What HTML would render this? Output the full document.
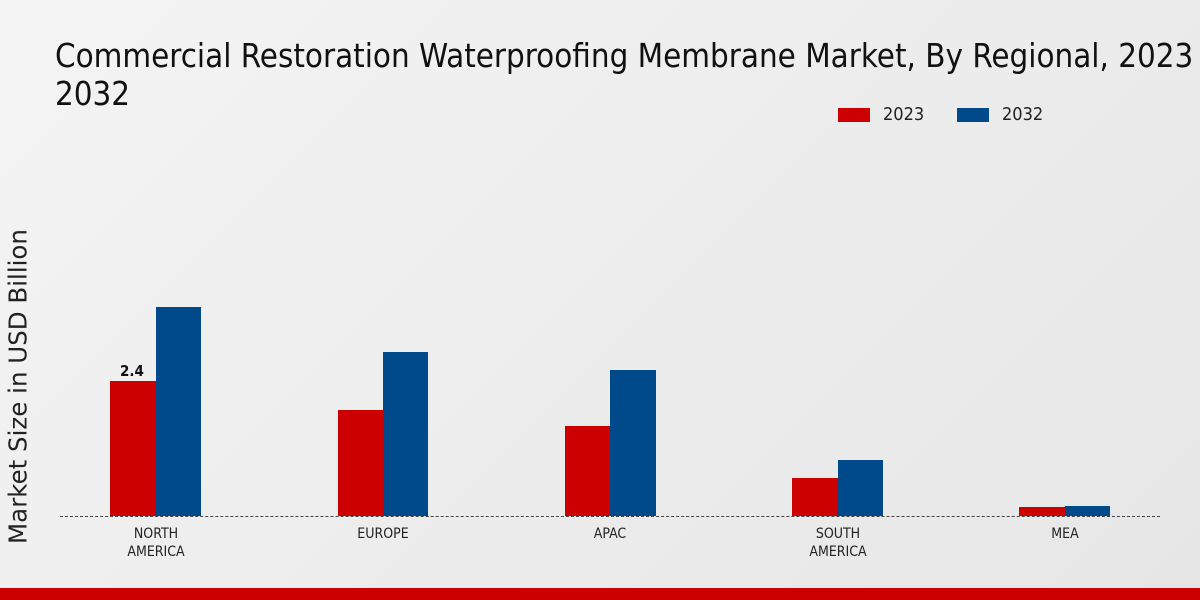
<!DOCTYPE html>
<html><head><style>
body{margin:0;width:1200px;height:600px;overflow:hidden;background:linear-gradient(135deg,#f4f4f4,#e6e6e6);font-family:"DejaVu Sans Condensed","DejaVu Sans","Liberation Sans",sans-serif;position:relative}
.t{position:absolute;left:55px;top:37px;font-size:32.8px;line-height:38px;color:#111;white-space:nowrap}
.b{position:absolute}
.l{position:absolute;font-size:14px;color:#222;text-align:center;width:140px;line-height:18px}
</style></head><body>
<div class="t">Commercial Restoration Waterproofing Membrane Market, By Regional, 2023 -<br>2032</div>
<div class="b" style="left:838px;top:108px;width:32px;height:14px;background:#cc0000"></div>
<div style="position:absolute;left:883px;top:104px;font-size:18px;color:#222">2023</div>
<div class="b" style="left:957px;top:108px;width:32px;height:14px;background:#004a8c"></div>
<div style="position:absolute;left:1002px;top:104px;font-size:18px;color:#222">2032</div>
<div style="position:absolute;left:-182px;top:372px;width:400px;transform:rotate(-90deg);font-size:24.5px;color:#222;text-align:center;font-family:'DejaVu Sans',sans-serif">Market Size in USD Billion</div>
<div class="b" style="left:110px;top:381px;width:46px;height:135px;background:#cc0000"></div>
<div class="b" style="left:156px;top:307px;width:45px;height:209px;background:#004a8c"></div>
<div class="b" style="left:338px;top:410px;width:45px;height:106px;background:#cc0000"></div>
<div class="b" style="left:383px;top:352px;width:45px;height:164px;background:#004a8c"></div>
<div class="b" style="left:565px;top:426px;width:45px;height:90px;background:#cc0000"></div>
<div class="b" style="left:610px;top:370px;width:46px;height:146px;background:#004a8c"></div>
<div class="b" style="left:792px;top:478px;width:46px;height:38px;background:#cc0000"></div>
<div class="b" style="left:838px;top:460px;width:45px;height:56px;background:#004a8c"></div>
<div class="b" style="left:1019px;top:507px;width:46px;height:9px;background:#cc0000"></div>
<div class="b" style="left:1065px;top:506px;width:45px;height:10px;background:#004a8c"></div>
<div style="position:absolute;left:120px;top:362px;font-size:15px;font-weight:bold;color:#111">2.4</div>
<div class="b" style="left:60px;top:516px;width:1100px;border-top:1px dashed #444"></div>
<div class="l" style="left:86px;top:525px">NORTH<br>AMERICA</div>
<div class="l" style="left:313px;top:525px">EUROPE</div>
<div class="l" style="left:540px;top:525px">APAC</div>
<div class="l" style="left:768px;top:525px">SOUTH<br>AMERICA</div>
<div class="l" style="left:995px;top:525px">MEA</div>
<div class="b" style="left:0;top:588px;width:1200px;height:12px;background:#cc0000"></div>
</body></html>
